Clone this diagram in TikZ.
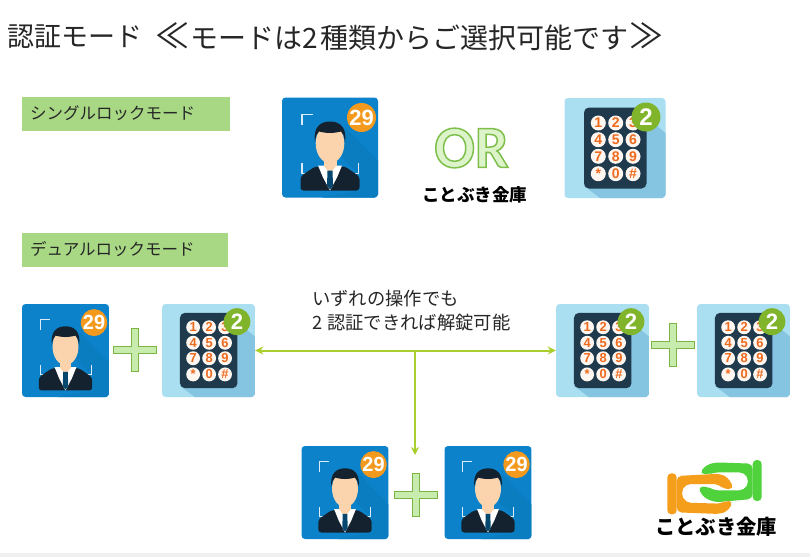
\documentclass[tikz,border=0pt]{standalone}
\usepackage{fontspec}
\usepackage{xcolor}
\setmainfont{Liberation Sans}
\newfontfamily\cjk{Noto Sans CJK JP}
\newfontfamily\orfont{Carlito}
\usetikzlibrary{arrows.meta,positioning}

\definecolor{faceblue}{HTML}{0B82C9}
\definecolor{faceshade}{HTML}{0A7CC0}
\definecolor{padsky}{HTML}{A9DFF1}
\definecolor{padshade}{HTML}{86C5E1}
\definecolor{padbody}{HTML}{1E3A4C}
\definecolor{suit}{HTML}{14222F}
\definecolor{skin}{HTML}{FBD3AC}
\definecolor{badgeorange}{HTML}{F39A1E}
\definecolor{badgegreen}{HTML}{7FB42B}
\definecolor{digitorange}{HTML}{EE6A1C}
\definecolor{labelgreen}{HTML}{A8D884}
\definecolor{arrowgreen}{HTML}{A9CE2D}
\definecolor{plusfill}{HTML}{C8EBAE}
\definecolor{plusline}{HTML}{7DB544}
\definecolor{orfill}{HTML}{DDF3C9}
\definecolor{logoorange}{HTML}{F59E1C}
\definecolor{logogreen}{HTML}{4FD23C}

\tikzset{
  modelabel/.style = {fill=labelgreen, minimum height=34pt, inner sep=0pt, anchor=west},
  modetext/.style = {font=\cjk\fontsize{16.5}{16.5}\selectfont, text=black!85, anchor=west},
  notetext/.style = {font=\cjk\fontsize{18.3}{18.3}\selectfont, text=black!85, anchor=west},
  titletext/.style = {font=\cjk\fontsize{#1}{#1}\selectfont, text=black!85, anchor=west, inner sep=0pt},
  brandtext/.style = {font=\cjk\bfseries\fontsize{#1}{#1}\selectfont, text=black},
  link/.style = {draw=arrowgreen, line width=2pt, {Stealth[length=8pt,width=8pt]}-{Stealth[length=8pt,width=8pt]}},
  drop/.style = {draw=arrowgreen, line width=2pt, -{Stealth[length=8pt,width=8pt]}},
  bracket/.style = {draw=white!85!faceblue, line width=1.1pt},
  face/.pic = {
    \fill[faceblue, rounded corners=3.5pt] (-48,-50) rectangle (48,50);
    \fill[faceshade] (15,-20) -- (48,13) -- (48,47) -- (45,50) -- (-8,50) -- (30,43) -- (30,27) -- (12,10) -- cycle;
    % corners
    \draw[bracket] (-28,-22.5) -- (-28,-33) -- (-17.5,-33);
    \draw[bracket] (-28,15.5) -- (-28,26) -- (-18,26);
    \draw[bracket] (28.5,15.5) -- (28.5,26) -- (18.5,26);
    % man
    \fill[suit, rounded corners=3pt] (-29.5,43) -- (-29.5,29) -- (-15,19) -- (15,19) -- (29.5,29) -- (29.5,43) -- cycle;
    \fill[white] (-12,18) -- (12,18) -- (7,30) -- (0,43) -- (-7,30) -- cycle;
    \fill[skin] (-6.5,8) rectangle (6.5,18);
    \fill[skin] (-6.5,18) -- (6.5,18) -- (0,26) -- cycle;
    \fill[skin] (0,-4) ellipse (14.3 and 19.7);
    \fill[suit] (-15,-6) .. controls (-17,-21) and (-9,-26) .. (0,-26) .. controls (9,-26) and (17,-21) .. (15,-6) .. controls (14,-11) and (14,-14) .. (11,-16) .. controls (4,-14) and (-4,-14) .. (-11,-16) .. controls (-14,-14) and (-14,-11) .. (-15,-6) -- cycle;
    \fill[faceblue!55!black] (-2.5,23) -- (2.5,23) -- (3,38) -- (0,42) -- (-3,38) -- cycle;
    % badge
    \fill[badgeorange] (31.5,-30) circle (14.5);
    \node[text=white, font=\bfseries\fontsize{22}{22}\selectfont, transform shape, inner sep=0pt] (badgeface) at (31.5,-30) {29};
  },
  pad/.pic = {
    \fill[padsky, rounded corners=3.5pt] (-50.5,-50) rectangle (50.5,50);
    \fill[padshade] (20,-40) -- (50.5,-15) -- (50.5,47) -- (47.5,50) -- (-15,50) -- (-31,38) -- cycle;
    \fill[padbody, rounded corners=5pt] (-31,-40.5) rectangle (31.5,40.5);
    % keys
    \foreach \k/\x/\y in {1/-16.7/-25,2/0.7/-25,3/18/-25,4/-16.7/-8.3,5/0.7/-8.3,6/18/-8.3,7/-16.7/8.3,8/0.7/8.3,9/18/8.3,{*}/-16.7/25.7,0/0.7/25.7,\#/18/25.7}
    {
      \fill[white!94!digitorange] (\x,\y) circle (7.5);
      \node[text=digitorange, font=\bfseries\fontsize{14}{14}\selectfont, transform shape, inner sep=0pt] at (\x,\y) {\k};
    }
    % badge
    \fill[badgegreen] (31,-31) circle (14.5);
    \node[text=white, font=\bfseries\fontsize{24}{24}\selectfont, transform shape, inner sep=0pt] (badgepad) at (31,-31) {2};
  },
  plussign/.pic = {
    \filldraw[fill=plusfill, draw=plusline, line width=1.3pt] (-3.4,-21.5) -- (3.4,-21.5) -- (3.4,-3.4) -- (21.5,-3.4) -- (21.5,3.4) -- (3.4,3.4) -- (3.4,21.5) -- (-3.4,21.5) -- (-3.4,3.4) -- (-21.5,3.4) -- (-21.5,-3.4) -- (-3.4,-3.4) -- cycle;
  }
}

\newcommand{\orword}{\special{pdf:code 2 Tr 1.5 w 0.49 0.75 0.29 RG}OR\special{pdf:code 0 Tr 1 w}}
\newcommand{\bigmark}[1]{{\fontsize{34}{28}\selectfont #1}}

\begin{document}
\begin{tikzpicture}[x=1pt,y=-1pt]
            \useasboundingbox (0,0) rectangle (810,557);
            \fill[black!6] (0,553) rectangle (810,557);

            % title
            \node[titletext=27] (title) at (7,37) {認証モード};
            \node[titletext=28] (subtitle) at (155,37) {\bigmark{≪}\hspace{1pt}モードは2\hspace{3pt}種類からご選択可能です\hspace{1pt}\bigmark{≫}};

            % labels
            \node[modelabel, minimum width=208pt] (singlebox) at (22,114) {};
            \node[modetext, inner sep=0pt] (singletext) at (30,113) {シングルロックモード};
            \node[modelabel, minimum width=206pt] (dualbox) at (22,250) {};
            \node[modetext, inner sep=0pt] (dualtext) at (30,249) {デュアルロックモード};

            % cards
            \node[minimum width=96pt, minimum height=101pt, inner sep=0pt] (singleface) at (330,147.5) {};
            \pic at (singleface) {face};
            \node[minimum width=102pt, minimum height=100pt, inner sep=0pt] (singlepad) at (615,148) {};
            \pic at (singlepad) {pad};
            \foreach \n/\x/\y in {dualface/65.5/350.5,lowerfaceA/345/492.5,lowerfaceB/488/492.5}
            {
              \node[minimum width=87pt, minimum height=93pt, inner sep=0pt] (\n) at (\x,\y) {};
              \pic[xscale=0.906,yscale=0.93] at (\n) {face};
            }
            \foreach \n/\x/\y in {dualpad/208.5/350.5,rightpadA/602.5/350.5,rightpadB/743.5/350.5}
            {
              \node[minimum width=93pt, minimum height=93pt, inner sep=0pt] (\n) at (\x,\y) {};
              \pic[xscale=0.92,yscale=0.93] at (\n) {pad};
            }

            % plus signs
            \pic at (135,350) {plussign};
            \pic at (673,345) {plussign};
            \pic at (416,495) {plussign};

            % OR
            \node[font=\orfont\bfseries\fontsize{60}{60}\selectfont, text=orfill, inner sep=0pt] (orword) at (471.5,148) {\orword};
            \node[brandtext=17.5, inner sep=0pt] (orbrand) at (474.5,195) {ことぶき金庫};

            % note
            \node[notetext, inner sep=0pt] (noteA) at (312,299) {いずれの操作でも};
            \node[notetext, inner sep=0pt] (noteB) at (312,323) {2\hspace{5pt}認証できれば解錠可能};

            % connectors
            \coordinate (split) at (415,350.5);
            \coordinate (dropend) at (415,455);
            \draw[link] (dualpad.east) -- (rightpadA.west);
            \draw[drop] (split) -- (dropend);

            % logo
            \begin{scope}[shift={(660,455)},x=0.3333pt,y=-0.3333pt]
              \fill[logogreen, rounded corners=5pt] (278,26) -- (165,22) -- (135,32) -- (118,57) -- (150,57) -- (165,52) -- (253,52) -- (268,78) -- (253,106) -- (160,106) -- (145,95) -- (113,95) -- (130,127) -- (165,142) -- (278,132) -- cycle;
              \fill[logogreen, rounded corners=4pt] (278,15) rectangle (305,138);
              \fill[logoorange, rounded corners=5pt] (50,63) -- (180,56) -- (205,68) -- (222,102) -- (190,102) -- (175,87) -- (77,87) -- (62,115) -- (77,143) -- (185,146) -- (195,138) -- (220,138) -- (205,167) -- (180,177) -- (50,172) -- cycle;
              \fill[logoorange, rounded corners=4pt] (22,55) rectangle (50,178);
            \end{scope}
            \node[brandtext=20.3, inner sep=0pt] (logobrand) at (716,527) {ことぶき金庫};
\end{tikzpicture}
\end{document}
